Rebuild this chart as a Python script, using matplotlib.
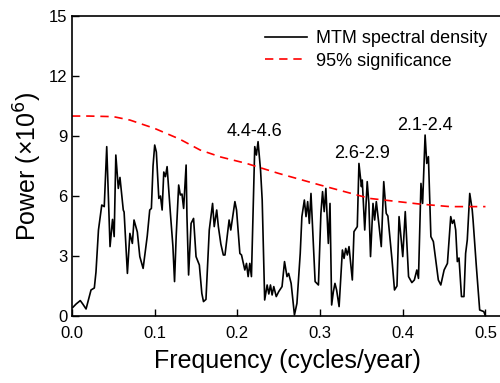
import matplotlib
matplotlib.use("Agg")
import matplotlib.pyplot as plt

plt.rcParams['font.family'] = ['Liberation Sans', 'DejaVu Sans']

# MTM spectrum (power in units of 1e6)
freq = [0.001, 0.005, 0.010, 0.013, 0.017, 0.023, 0.027, 0.029, 0.032, 0.036,
        0.039, 0.042, 0.044, 0.046, 0.049, 0.051, 0.053, 0.056, 0.058, 0.062,
        0.063, 0.067, 0.070, 0.073, 0.075, 0.079, 0.082, 0.086, 0.091, 0.094,
        0.096, 0.098, 0.100, 0.102, 0.105, 0.107, 0.109, 0.111, 0.113, 0.115,
        0.119, 0.122, 0.124, 0.126, 0.129, 0.131, 0.133, 0.135, 0.138, 0.139,
        0.141, 0.144, 0.147, 0.150, 0.154, 0.157, 0.159, 0.162, 0.166, 0.170,
        0.172, 0.175, 0.177, 0.180, 0.183, 0.185, 0.190, 0.192, 0.197, 0.199,
        0.203, 0.205, 0.209, 0.211, 0.213, 0.215, 0.217, 0.221, 0.223, 0.225,
        0.228, 0.230, 0.233, 0.236, 0.238, 0.240, 0.242, 0.244, 0.247, 0.250,
        0.254, 0.257, 0.260, 0.262, 0.265, 0.269, 0.272, 0.276, 0.278, 0.281,
        0.283, 0.285, 0.287, 0.289, 0.292, 0.294, 0.298, 0.301, 0.303, 0.305,
        0.307, 0.310, 0.312, 0.314, 0.316, 0.318, 0.320, 0.323, 0.327, 0.329,
        0.331, 0.333, 0.335, 0.339, 0.341, 0.345, 0.347, 0.350, 0.351, 0.354,
        0.357, 0.359, 0.361, 0.364, 0.366, 0.368, 0.371, 0.374, 0.377, 0.380,
        0.382, 0.384, 0.387, 0.390, 0.393, 0.3955, 0.397, 0.400, 0.403, 0.407,
        0.411, 0.414, 0.417, 0.419, 0.422, 0.424, 0.427, 0.429, 0.431, 0.434,
        0.437, 0.443, 0.446, 0.450, 0.454, 0.458, 0.460, 0.462, 0.464, 0.466,
        0.468, 0.471, 0.474, 0.476, 0.478, 0.481, 0.484, 0.485, 0.489, 0.493,
        0.498, 0.500]
power = [0.43, 0.60, 0.77, 0.60, 0.35, 1.30, 1.40, 2.20, 4.30, 5.55,
         5.47, 8.47, 6.00, 3.47, 4.83, 3.97, 8.05, 6.38, 6.93, 5.30,
         5.20, 2.13, 4.13, 3.63, 4.80, 4.20, 2.97, 2.38, 4.00, 5.30,
         5.38, 7.50, 8.55, 8.20, 5.88, 6.00, 5.30, 7.20, 6.97, 7.47,
         5.13, 3.50, 1.72, 4.00, 6.55, 6.05, 6.10, 5.38, 7.55, 5.00,
         2.05, 4.63, 4.88, 2.97, 2.55, 1.13, 0.72, 0.83, 4.30, 5.63,
         4.47, 5.30, 4.47, 3.60, 3.05, 3.05, 4.80, 4.30, 5.72, 5.30,
         3.13, 3.05, 2.30, 2.63, 1.97, 2.63, 1.97, 8.47, 8.05, 8.72,
         7.30, 5.80, 0.80, 1.55, 1.10, 1.55, 1.05, 1.47, 0.97, 1.22,
         1.47, 2.72, 1.97, 2.13, 1.63, 0.05, 0.63, 3.13, 4.97, 5.80,
         4.97, 5.72, 4.63, 6.13, 3.47, 1.72, 1.55, 5.13, 6.22, 5.22,
         6.38, 3.63, 5.63, 0.55, 1.20, 1.63, 1.30, 0.47, 3.30, 2.88,
         3.38, 3.05, 3.47, 1.80, 4.22, 4.47, 7.63, 6.47, 6.80, 4.30,
         6.72, 5.63, 2.97, 5.63, 4.80, 5.72, 4.63, 3.47, 6.72, 5.13,
         5.00, 4.13, 2.80, 1.30, 1.50, 4.97, 4.30, 2.97, 5.22, 1.97,
         1.67, 1.80, 2.30, 1.88, 6.63, 5.63, 9.05, 7.63, 7.97, 3.97,
         3.72, 1.80, 1.55, 2.30, 2.63, 4.97, 4.63, 4.80, 4.30, 2.72,
         2.90, 0.97, 0.97, 3.13, 3.80, 6.13, 5.30, 4.80, 2.47, 0.30,
         0.22, 0.00]

# 95% significance level
sig_freq = [0.0, 0.02, 0.05, 0.07, 0.10, 0.13, 0.155, 0.18, 0.211, 0.25,
            0.30, 0.36, 0.42, 0.457, 0.50]
sig_power = [10.0, 10.0, 9.97, 9.8, 9.38, 8.85, 8.3, 7.95, 7.63, 7.13,
             6.55, 5.88, 5.6, 5.47, 5.47]

peak_labels = ['4.4-4.6', '2.6-2.9', '2.1-2.4']
peak_freq = [0.221, 0.351, 0.427]
peak_power = [9.25, 8.15, 9.55]

fig = plt.figure(figsize=(5, 3.83), dpi=100)
ax = fig.add_axes([0.144, 0.175, 0.86, 0.783])

ax.plot(freq, power, color='black', lw=1.2, label='MTM spectral density')
ax.plot(sig_freq, sig_power, color='red', lw=1.2, ls=(0, (5, 3.5)),
        label='95% significance')

for lab, fx, py in zip(peak_labels, peak_freq, peak_power):
    ax.text(fx, py, lab, fontsize=13, ha='center', va='center')

ax.set_xlim(0, 0.52)
ax.set_ylim(0, 15)
ax.set_xticks([0.0, 0.1, 0.2, 0.3, 0.4, 0.5])
ax.set_xticklabels(['0.0', '0.1', '0.2', '0.3', '0.4', '0.5'])
ax.set_yticks([0, 3, 6, 9, 12, 15])
ax.tick_params(direction='in', labelsize=12, length=5, width=1)
ax.tick_params(axis='x', pad=7)
for s in ax.spines.values():
    s.set_linewidth(1.2)

ax.set_xlabel('Frequency (cycles/year)', fontsize=18, labelpad=6)
ax.set_ylabel('Power (×10$^{6}$)', fontsize=18, labelpad=3)

ax.legend(loc='upper right', bbox_to_anchor=(0.995, 0.995), frameon=False,
          fontsize=13, handlelength=2.3, handletextpad=0.5,
          labelspacing=0.3, borderaxespad=0.3)

fig.savefig('out.png', dpi=100)
